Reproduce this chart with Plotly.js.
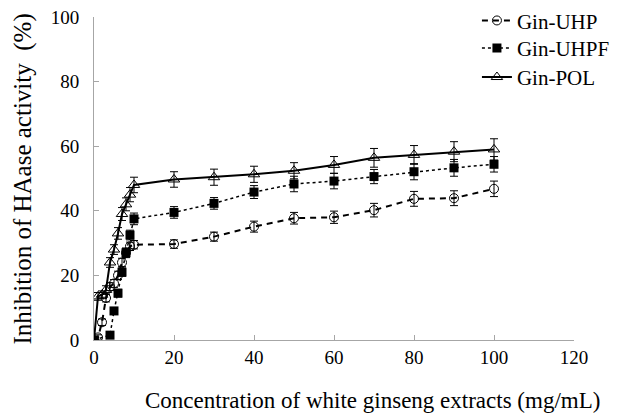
<!DOCTYPE html>
<html>
<head>
<meta charset="utf-8">
<script src="https://cdn.plot.ly/plotly-3.0.1.min.js"></script>
<style>html,body{margin:0;padding:0;background:#fff;}#chart{width:617px;height:416px;}</style>
</head>
<body>
<div id="chart"></div>
<script>
// Concentrations (mg/mL)
var xFull = [0, 1, 2, 3, 4, 5, 6, 7, 8, 9, 10, 20, 30, 40, 50, 60, 70, 80, 90, 100];
var xUHPF = [0, 4, 5, 6, 7, 8, 9, 10, 20, 30, 40, 50, 60, 70, 80, 90, 100];

// Gin-UHP
var uhpY   = [0, 0.8, 5.5, 13, 16.5, 17.5, 20, 24, 27, 29, 29.5, 29.7, 32.0, 35.1, 37.7, 38.0, 40.2, 43.7, 43.9, 46.8];
var uhpErr = [0.5, 0.8, 1.0, 1.2, 1.2, 1.2, 1.3, 1.3, 1.3, 1.3, 1.3, 1.3, 1.4, 1.7, 1.8, 1.9, 2.1, 2.3, 2.3, 2.4];

// Gin-UHPF
var uhpfY   = [0, 1.5, 9, 14.5, 21, 27, 32.5, 37.5, 39.5, 42.3, 45.8, 48.3, 49.2, 50.6, 52.1, 53.3, 54.4];
var uhpfErr = [0.5, 0.8, 1.0, 1.2, 1.3, 1.5, 1.5, 1.8, 1.8, 1.8, 2.0, 2.4, 2.4, 2.2, 2.5, 2.6, 2.4];

// Gin-POL
var polY   = [0, 13.5, 14, 15.5, 24, 28, 33, 39, 42, 45, 48, 49.7, 50.4, 51.3, 52.4, 54.2, 56.4, 57.3, 58.3, 59.0];
var polErr = [0.5, 1.2, 1.2, 1.3, 1.5, 1.5, 1.8, 2.0, 2.0, 2.2, 2.4, 2.4, 2.5, 2.5, 2.5, 2.6, 2.9, 2.9, 3.1, 3.3];

var names = ["Gin-UHP", "Gin-UHPF", "Gin-POL"];
var tickVals = [0, 20, 40, 60, 80, 100, 120];
var yTickVals = [0, 20, 40, 60, 80, 100];
var xTitle = 'Concentration of white ginseng extracts (mg/mL)';
var yTitle = 'Inhibition of HAase activity&nbsp;&nbsp;(%)';

var SERIF = 'Liberation Serif, Times New Roman, serif';

function errCfg(arr) {
  return {type: 'data', array: arr, visible: true, color: '#000', thickness: 1, width: 4};
}

var traces = [
  {
    x: xFull, y: uhpY, name: names[0], type: 'scatter', mode: 'lines+markers', legend: 'legend',
    line: {color: '#000', width: 2, dash: '6px,5px'},
    marker: {symbol: 'circle-open', size: 9, color: '#000', line: {width: 1, color: '#000'}},
    error_y: errCfg(uhpErr)
  },
  {
    x: xUHPF, y: uhpfY, name: names[1], type: 'scatter', mode: 'lines+markers', legend: 'legend2',
    line: {color: '#000', width: 1.5, dash: 'dot'},
    marker: {symbol: 'square', size: 9, color: '#000'},
    error_y: errCfg(uhpfErr)
  },
  {
    x: xFull, y: polY, name: names[2], type: 'scatter', mode: 'lines+markers', legend: 'legend3',
    line: {color: '#000', width: 2},
    marker: {symbol: 'triangle-up-open', size: 10, color: '#000', line: {width: 1, color: '#000'}},
    error_y: errCfg(polErr)
  }
];

function legendAt(yc) {
  return {
    xref: 'container', yref: 'container', x: 0.773, xanchor: 'left', y: yc, yanchor: 'middle',
    bgcolor: 'rgba(0,0,0,0)', borderwidth: 0, font: {size: 21, family: SERIF}, itemwidth: 30
  };
}

var layout = {
  width: 617, height: 416,
  margin: {l: 94, r: 43, t: 17, b: 76, autoexpand: false},
  paper_bgcolor: '#fff', plot_bgcolor: '#fff',
  font: {family: SERIF, color: '#000', size: 19},
  showlegend: true,
  legend: legendAt(0.950),
  legend2: legendAt(0.884),
  legend3: legendAt(0.814),
  xaxis: {
    range: [0, 120], tickvals: tickVals, ticktext: tickVals.map(String),
    showgrid: false, zeroline: false, showline: true, linecolor: '#a6a6a6', linewidth: 1,
    ticks: 'inside', ticklen: 5, tickcolor: '#a6a6a6', tickfont: {size: 19, family: SERIF}
  },
  yaxis: {
    range: [0, 100], tickvals: yTickVals, ticktext: yTickVals.map(String),
    showgrid: false, zeroline: false, showline: true, linecolor: '#a6a6a6', linewidth: 1,
    ticks: 'inside', ticklen: 5, tickcolor: '#a6a6a6', tickfont: {size: 19, family: SERIF},
    ticklabelstandoff: 10
  },
  annotations: [
    {text: xTitle, xref: 'paper', yref: 'paper', x: 0.581, y: -0.186,
     xanchor: 'center', yanchor: 'middle', showarrow: false, font: {size: 23, family: SERIF}},
    {text: yTitle, xref: 'paper', yref: 'paper', x: -0.148, y: 0.50, textangle: -90,
     xanchor: 'center', yanchor: 'middle', showarrow: false, font: {size: 25, family: SERIF}}
  ]
};

Plotly.newPlot('chart', traces, layout, {displayModeBar: false, staticPlot: true});
</script>
</body>
</html>
